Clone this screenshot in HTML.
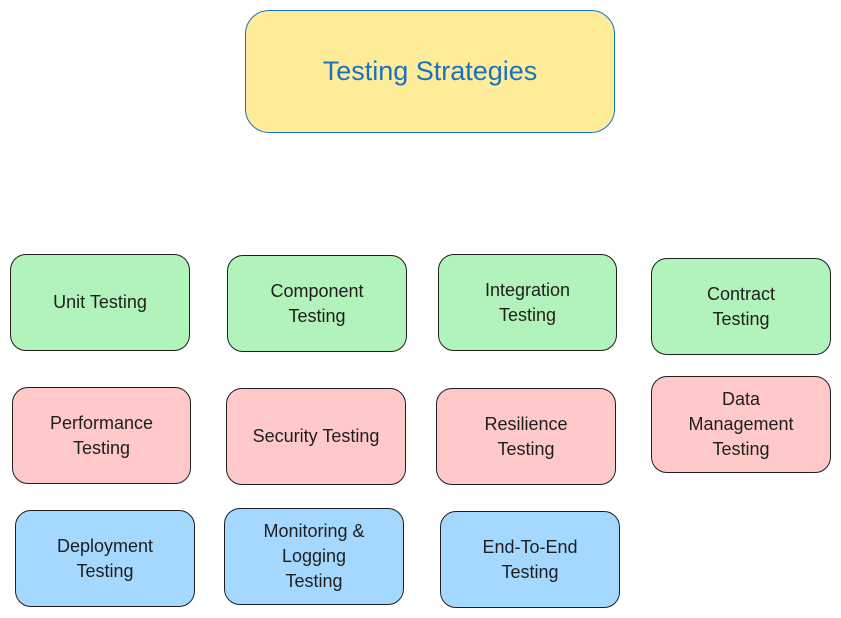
<!DOCTYPE html>
<html><head><meta charset="utf-8"><style>
body{margin:0;width:841px;height:618px;background:#fff;position:relative;overflow:hidden;font-family:"Comic Sans MS","Liberation Sans",sans-serif}
.b{position:absolute;box-sizing:border-box;border:1.5px solid #1e1e1e;border-radius:16px;display:flex;align-items:center;justify-content:center;text-align:center;font-size:18px;line-height:25px;color:#1e1e1e}
.g{background:#b2f2bb}.p{background:#ffc9c9}.c{background:#a5d8ff}
</style></head><body>
<div class="b" style="left:245px;top:10px;width:370px;height:123px;background:#ffec99;border-color:#1971c2;border-radius:24px;color:#1971c2;font-size:27px">Testing Strategies</div>
<div class="b g" style="left:10px;top:254px;width:180px;height:97px">Unit Testing</div>
<div class="b g" style="left:227px;top:255px;width:180px;height:97px">Component<br>Testing</div>
<div class="b g" style="left:438px;top:254px;width:179px;height:97px">Integration<br>Testing</div>
<div class="b g" style="left:651px;top:258px;width:180px;height:97px">Contract<br>Testing</div>
<div class="b p" style="left:12px;top:387px;width:179px;height:97px">Performance<br>Testing</div>
<div class="b p" style="left:226px;top:388px;width:180px;height:97px">Security Testing</div>
<div class="b p" style="left:436px;top:388px;width:180px;height:97px">Resilience<br>Testing</div>
<div class="b p" style="left:651px;top:376px;width:180px;height:97px">Data<br>Management<br>Testing</div>
<div class="b c" style="left:15px;top:510px;width:180px;height:97px">Deployment<br>Testing</div>
<div class="b c" style="left:224px;top:508px;width:180px;height:97px">Monitoring &amp;<br>Logging<br>Testing</div>
<div class="b c" style="left:440px;top:511px;width:180px;height:97px">End-To-End<br>Testing</div>
</body></html>
